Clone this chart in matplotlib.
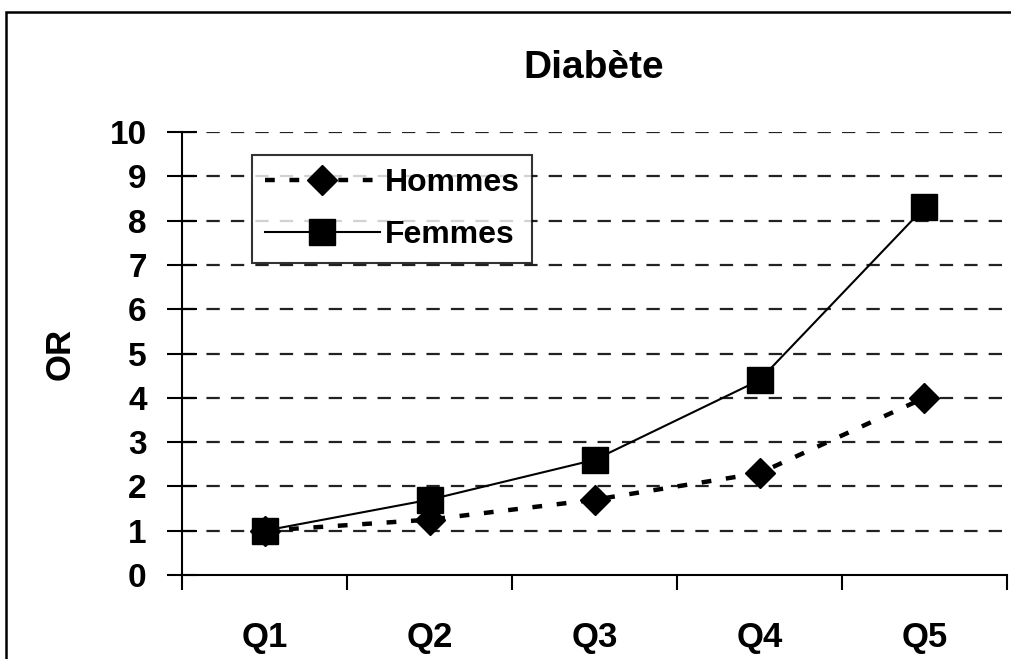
import matplotlib
matplotlib.use("Agg")
import matplotlib.pyplot as plt
from matplotlib.patches import Rectangle

# données
categories = ["Q1", "Q2", "Q3", "Q4", "Q5"]
hommes = [1.0, 1.25, 1.7, 2.3, 4.0]
femmes = [1.0, 1.7, 2.6, 4.4, 8.3]
y_ticks = list(range(0, 11))

plt.rcParams['font.family'] = ['Liberation Sans', 'DejaVu Sans']
plt.rcParams['font.weight'] = 'bold'

fig = plt.figure(figsize=(10.12, 6.59), dpi=100)
ax = fig.add_axes([0.180, 0.1275, 0.815, 0.672])

x = list(range(len(categories)))
ax.plot(x, hommes, color='black', lw=3.2, linestyle=(0, (2.2, 3.3)),
        marker='D', markersize=15, label='Hommes', zorder=3)
ax.plot(x, femmes, color='black', lw=1.5, linestyle='-',
        marker='s', markersize=19, label='Femmes', zorder=4)

ax.set_xlim(-0.5, 4.5)
ax.set_ylim(0, 10)
ax.set_yticks(y_ticks)
ax.set_xticks(x)
ax.set_xticklabels(categories)
ax.set_xticks([i - 0.5 for i in range(len(categories) + 1)], minor=True)

for v in y_ticks[1:]:
    ax.axhline(v, color='#222222', lw=1.6, linestyle=(0, (6, 5)), zorder=1)

for s in ['top', 'right']:
    ax.spines[s].set_visible(False)
for s in ['left', 'bottom']:
    ax.spines[s].set_linewidth(1.5)

ax.tick_params(axis='y', direction='inout', length=21, width=1.5,
               labelsize=24, pad=15)
ax.tick_params(axis='x', which='major', length=0, labelsize=25, pad=33)
ax.tick_params(axis='x', which='minor', direction='out', length=11, width=1.5)

ax.set_ylabel("OR", fontsize=25, fontweight='bold', labelpad=24)
fig.text(0.587, 0.897, "Diabète", fontsize=28, fontweight='bold',
         ha='center', va='center')

leg = ax.legend(loc='upper left', bbox_to_anchor=(252 / 1012, 1 - 155 / 659),
                bbox_transform=fig.transFigure, fontsize=23, frameon=True,
                fancybox=False, edgecolor='black', handlelength=3.6,
                handletextpad=0.15, borderpad=0.4, labelspacing=0.7,
                borderaxespad=0)
leg.get_frame().set_linewidth(1.5)

# cadre extérieur
fig.patches.append(Rectangle((6 / 1012, -0.2), 1.2, 1.2 - 12 / 659,
                             transform=fig.transFigure, fill=False,
                             edgecolor='black', lw=1.8))

fig.savefig("out.png", dpi=100)
